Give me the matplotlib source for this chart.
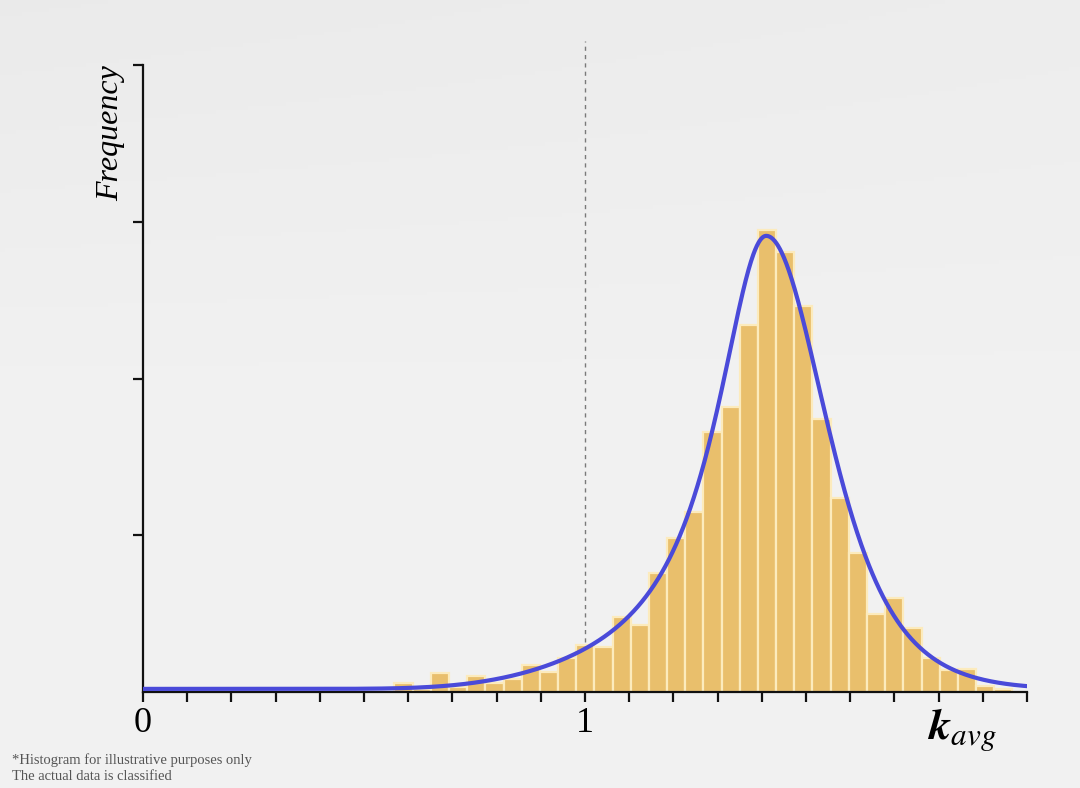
import numpy as np
import matplotlib.pyplot as plt

# histogram counts, one per bin (bins of equal width)
counts = [6, 2, 12, 3, 10, 6, 8, 17, 13, 22, 30, 29, 48, 43, 76, 98, 115,
          166, 182, 234, 295, 281, 246, 174, 124, 89, 50, 60, 41, 22, 14, 15, 4, 2]
bin_start = 0.569
bin_stop = 1.967

# fitted curve parameters (asymmetric peak)
peak_x = 1.410
peak_amp = 289
base = 2
left_gamma = 0.1406
left_taper = 0.637
right_scale = 0.1424
right_nu = 4
right_taper = 0.6

edges = np.linspace(bin_start, bin_stop, len(counts) + 1)

x = np.linspace(0, 2, 1500)
d = x - peak_x
left = 1 / (1 + (d / left_gamma) ** 2) * np.exp(-(d / left_taper) ** 4)
right = (1 + (d / right_scale) ** 2 / right_nu) ** (-(right_nu + 1) / 2) * np.exp(-(d / right_taper) ** 4)
curve = base + peak_amp * np.where(d < 0, left, right)

fig = plt.figure(figsize=(10.8, 7.88), dpi=100)
fig.patch.set_facecolor('#f0f0f2')

# soft background shading
bg = fig.add_axes([0, 0, 1, 1], zorder=-10)
gy, gx = np.mgrid[0:1:200j, 0:1:200j]
shade = 0.945 - 0.018 * np.clip(1 - gy * 1.8, 0, 1) - 0.01 * (1 - gx) * np.clip(1 - gy * 2, 0, 1)
bg.imshow(shade, cmap='gray', vmin=0, vmax=1, aspect='auto', extent=[0, 1, 0, 1])
bg.axis('off')

ax = fig.add_axes([0.1324, 0.1218, 0.8185, 0.7957])
ax.set_facecolor('none')

ax.bar(edges[:-1], counts, width=np.diff(edges), align='edge',
       color='#e9bf6c', edgecolor='#fcebbd', linewidth=1.6, zorder=2)
ax.plot(x, curve, color='#4a4ad9', linewidth=3, zorder=3, solid_capstyle='round')
ax.plot([1, 1], [0, 415], color='#7a7a7a', linewidth=1, linestyle=(0, (3, 3)),
        clip_on=False, zorder=1)

ax.set_xlim(0, 2)
ax.set_ylim(0, 400)
for s in ['top', 'right']:
    ax.spines[s].set_visible(False)
for s in ['left', 'bottom']:
    ax.spines[s].set_linewidth(1.6)
    ax.spines[s].set_color('#111111')

ax.set_xticks(np.arange(0, 2.01, 0.1))
ax.set_xticklabels(['0' if abs(t) < 1e-9 else '1' if abs(t - 1) < 1e-9 else ''
                    for t in np.arange(0, 2.01, 0.1)],
                   family='Liberation Serif', fontsize=26)
ax.set_yticks([100, 200, 300, 400])
ax.set_yticklabels([])
ax.tick_params(direction='out', length=7, width=1.6, color='#111111', pad=4)

ax.set_ylabel('Frequency', loc='top', family='Liberation Serif', style='italic',
              fontsize=23, labelpad=2)

plt.rcParams['mathtext.fontset'] = 'stix'
fig.text(962 / 1080, 1 - 730 / 788, r'$\mathbfit{k}_{avg}$', ha='center', va='center', fontsize=32)

fig.text(12 / 1080, 1 - 760 / 788, '*Histogram for illustrative purposes only',
         family='Liberation Serif', fontsize=10.5, color='#555555', va='center')
fig.text(12 / 1080, 1 - 776 / 788, 'The actual data is classified',
         family='Liberation Serif', fontsize=10.5, color='#555555', va='center')

fig.savefig('out.png', dpi=100, facecolor=fig.get_facecolor())
